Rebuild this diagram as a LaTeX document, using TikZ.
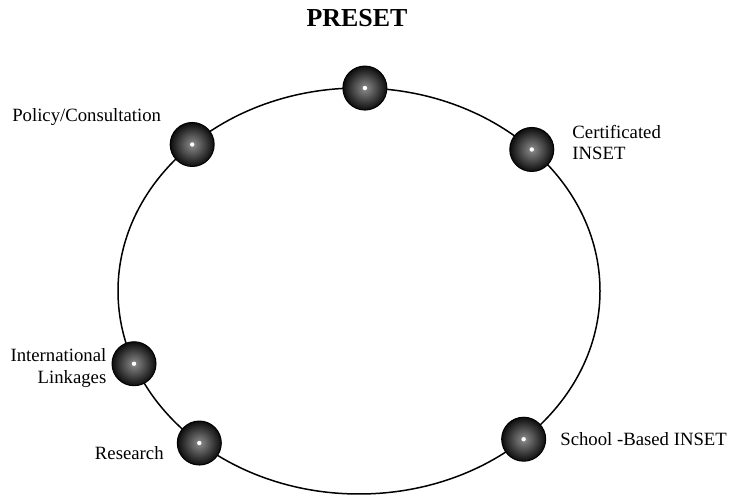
\documentclass[tikz,border=0pt]{standalone}
\usepackage{fontspec}
\setmainfont{Liberation Serif}
\usetikzlibrary{positioning}
\begin{document}
\begin{tikzpicture}[
  x=1bp, y=1bp,
  hub/.style={circle, draw=black, line width=1bp, minimum size=44bp, inner sep=0pt,
              inner color=black!45, outer color=black!95},
  lbl/.style={inner sep=0pt, font=\fontsize{18.8}{22}\selectfont},
  ring/.style={line width=1.5bp}
]
  \useasboundingbox (0,0) rectangle (730,496);
  % title
  \node[inner sep=0pt, font=\fontsize{26}{30}\selectfont\bfseries] (title) at (357,478) {PRESET};
  \begin{scope}[shift={(359,205)}]
    % ring
    \draw[ring] (0,0) ellipse [x radius=241, y radius=203];
    % hubs
    \node[hub] (top)  at (88.6:241bp and 203bp) {};
    \node[hub] (pol)  at (133.8:241bp and 203bp) {};
    \node[hub] (cert) at (44.2:241bp and 203bp) {};
    \node[hub] (intl) at (201:241bp and 203bp) {};
    \node[hub] (res)  at (228.5:241bp and 203bp) {};
    \node[hub] (sch)  at (313.1:241bp and 203bp) {};
  \end{scope}
  % white centres
  \foreach \n in {top,pol,cert,intl,res,sch}
    \fill[white] (\n.center) circle (2.2bp);
  % labels
  \node[lbl, above left=3bp and 15bp of pol] (polL) {Policy/Consultation};
  \node[lbl, align=left, right=18bp of cert, yshift=7bp] (certL) {Certificated\\INSET};
  \node[lbl, align=right, left=5bp of intl, yshift=-4bp] (intlL) {International\\Linkages};
  \node[lbl, left=13bp of res, yshift=-10bp] (resL) {Research};
  \node[lbl, right=14bp of sch] (schL) {School -Based INSET};
\end{tikzpicture}
\end{document}
